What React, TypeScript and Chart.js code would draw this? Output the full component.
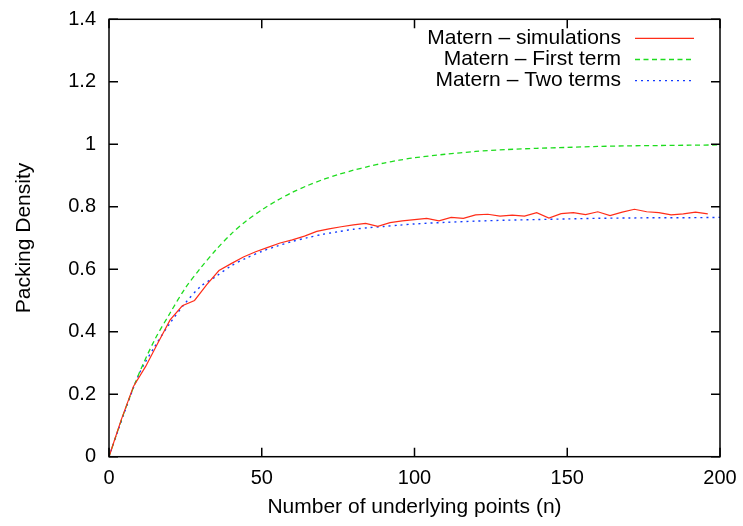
import React, { useEffect, useRef } from "react";
import { Chart, registerables } from "chart.js";

Chart.register(...registerables);

const simN = [0, 4, 8, 12, 16, 20, 24, 28, 32, 36, 40, 44, 48, 52, 56, 60, 64, 68, 72, 76, 80, 84, 88, 92, 96, 100, 104, 108, 112, 116, 120, 124, 128, 132, 136, 140, 144, 148, 152, 156, 160, 164, 168, 172, 176, 180, 184, 188, 192, 196];
const simDensity = [0, 0.118, 0.225, 0.289, 0.364, 0.438, 0.483, 0.5, 0.551, 0.596, 0.618, 0.639, 0.656, 0.67, 0.684, 0.694, 0.706, 0.721, 0.729, 0.736, 0.742, 0.747, 0.737, 0.749, 0.755, 0.759, 0.763, 0.755, 0.766, 0.763, 0.774, 0.776, 0.77, 0.773, 0.77, 0.781, 0.764, 0.778, 0.781, 0.775, 0.784, 0.772, 0.783, 0.792, 0.784, 0.781, 0.774, 0.777, 0.783, 0.777];

const theoryN = [0, 5, 10, 15, 20, 25, 30, 35, 40, 45, 50, 55, 60, 65, 70, 75, 80, 85, 90, 95, 100, 110, 120, 130, 140, 150, 160, 170, 180, 190, 200];
const firstTerm = [0, 0.143, 0.27, 0.375, 0.46, 0.54, 0.604, 0.662, 0.713, 0.755, 0.79, 0.82, 0.846, 0.868, 0.887, 0.903, 0.917, 0.929, 0.94, 0.949, 0.957, 0.968, 0.977, 0.983, 0.987, 0.99, 0.993, 0.995, 0.996, 0.997, 0.998];
const twoTerms = [0, 0.14, 0.268, 0.353, 0.428, 0.492, 0.545, 0.577, 0.611, 0.636, 0.657, 0.674, 0.689, 0.701, 0.712, 0.72, 0.728, 0.733, 0.737, 0.741, 0.745, 0.75, 0.754, 0.757, 0.759, 0.761, 0.763, 0.764, 0.765, 0.765, 0.766];

const yTicks = [0, 0.2, 0.4, 0.6, 0.8, 1, 1.2, 1.4];
const xTicks = [0, 50, 100, 150, 200];

const labels = ["Matern \u2013 simulations", "Matern \u2013 First term", "Matern \u2013 Two terms"];
const colors = ["rgb(255,45,25)", "rgb(30,220,30)", "rgb(20,60,255)"];
const dashes = [[], [5, 3.5], [2, 4]];

const FONT = "'Liberation Sans', Arial, Helvetica, sans-serif";

const framePlugin = {
  id: "framePlugin",
  afterDraw(chart: any) {
    const { ctx, chartArea: a, scales } = chart;
    ctx.save();
    ctx.strokeStyle = "#000";
    ctx.lineWidth = 1.5;
    ctx.strokeRect(a.left, a.top, a.right - a.left, a.bottom - a.top);
    const tl = 9;
    ctx.beginPath();
    for (const v of yTicks) {
      const y = scales.y.getPixelForValue(v);
      ctx.moveTo(a.left, y);
      ctx.lineTo(a.left + tl, y);
      ctx.moveTo(a.right, y);
      ctx.lineTo(a.right - tl, y);
    }
    for (const v of xTicks) {
      const x = scales.x.getPixelForValue(v);
      ctx.moveTo(x, a.bottom);
      ctx.lineTo(x, a.bottom - tl);
      ctx.moveTo(x, a.top);
      ctx.lineTo(x, a.top + tl);
    }
    ctx.stroke();

    // legend
    ctx.font = `21px ${FONT}`;
    ctx.textAlign = "right";
    ctx.textBaseline = "middle";
    ctx.fillStyle = "#000";
    chart.data.datasets.forEach((ds: any, i: number) => {
      const y = a.top + 19 + i * 21.2;
      ctx.fillText(ds.label, a.right - 99, y);
      ctx.beginPath();
      ctx.strokeStyle = ds.borderColor;
      ctx.lineWidth = 1.3;
      ctx.setLineDash(ds.borderDash || []);
      ctx.moveTo(a.right - 85, y);
      ctx.lineTo(a.right - 26, y);
      ctx.stroke();
      ctx.setLineDash([]);
    });
    ctx.restore();
  },
};

export default function App() {
  const ref = useRef<HTMLCanvasElement>(null);
  useEffect(() => {
    document.body.style.margin = "0";
    const toPts = (xs: number[], ys: number[]) => xs.map((x, i) => ({ x, y: ys[i] }));
    const chart = new Chart(ref.current as HTMLCanvasElement, {
      type: "line",
      data: {
        datasets: [
          { label: labels[0], data: toPts(simN, simDensity), borderColor: colors[0], borderDash: dashes[0], borderWidth: 1.2, pointRadius: 0, tension: 0 },
          { label: labels[1], data: toPts(theoryN, firstTerm), borderColor: colors[1], borderDash: dashes[1], borderWidth: 1.3, pointRadius: 0, tension: 0.3 },
          { label: labels[2], data: toPts(theoryN, twoTerms), borderColor: colors[2], borderDash: dashes[2], borderWidth: 1.4, pointRadius: 0, tension: 0.3 },
        ],
      },
      options: {
        animation: false,
        responsive: true,
        maintainAspectRatio: false,
        layout: { padding: { left: 0, right: 23, top: 19.3, bottom: 0 } },
        plugins: { legend: { display: false }, tooltip: { enabled: false } },
        scales: {
          x: {
            type: "linear",
            min: 0,
            max: 200,
            afterBuildTicks: (s: any) => { s.ticks = xTicks.map((v) => ({ value: v })); },
            afterFit: (s: any) => { s.height = 69.3; s.paddingLeft = 0; s.paddingRight = 0; },
            grid: { display: false, drawTicks: false },
            border: { display: false },
            ticks: { color: "#000", padding: 10, font: { family: FONT, size: 20 }, callback: (v: any) => String(v), maxRotation: 0 },
            title: { display: true, text: "Number of underlying points (n)", color: "#000", font: { family: FONT, size: 21 }, padding: { top: 0, bottom: 6.5 } },
          },
          y: {
            type: "linear",
            min: 0,
            max: 1.4,
            afterBuildTicks: (s: any) => { s.ticks = yTicks.map((v) => ({ value: v })); },
            afterFit: (s: any) => { s.width = 109; s.paddingTop = 0; s.paddingBottom = 0; },
            grid: { display: false, drawTicks: false },
            border: { display: false },
            ticks: { color: "#000", padding: 13, font: { family: FONT, size: 20 }, callback: (v: any) => String(Math.round(v * 10) / 10) },
            title: { display: true, text: "Packing Density", color: "#000", font: { family: FONT, size: 21 }, padding: { top: 12, bottom: 0 } },
          },
        },
      },
      plugins: [framePlugin],
    });
    return () => chart.destroy();
  }, []);
  return (
    <div style={{ position: "absolute", left: 0, top: 0, width: 743, height: 526, background: "#fff" }}>
      <canvas ref={ref} />
    </div>
  );
}
